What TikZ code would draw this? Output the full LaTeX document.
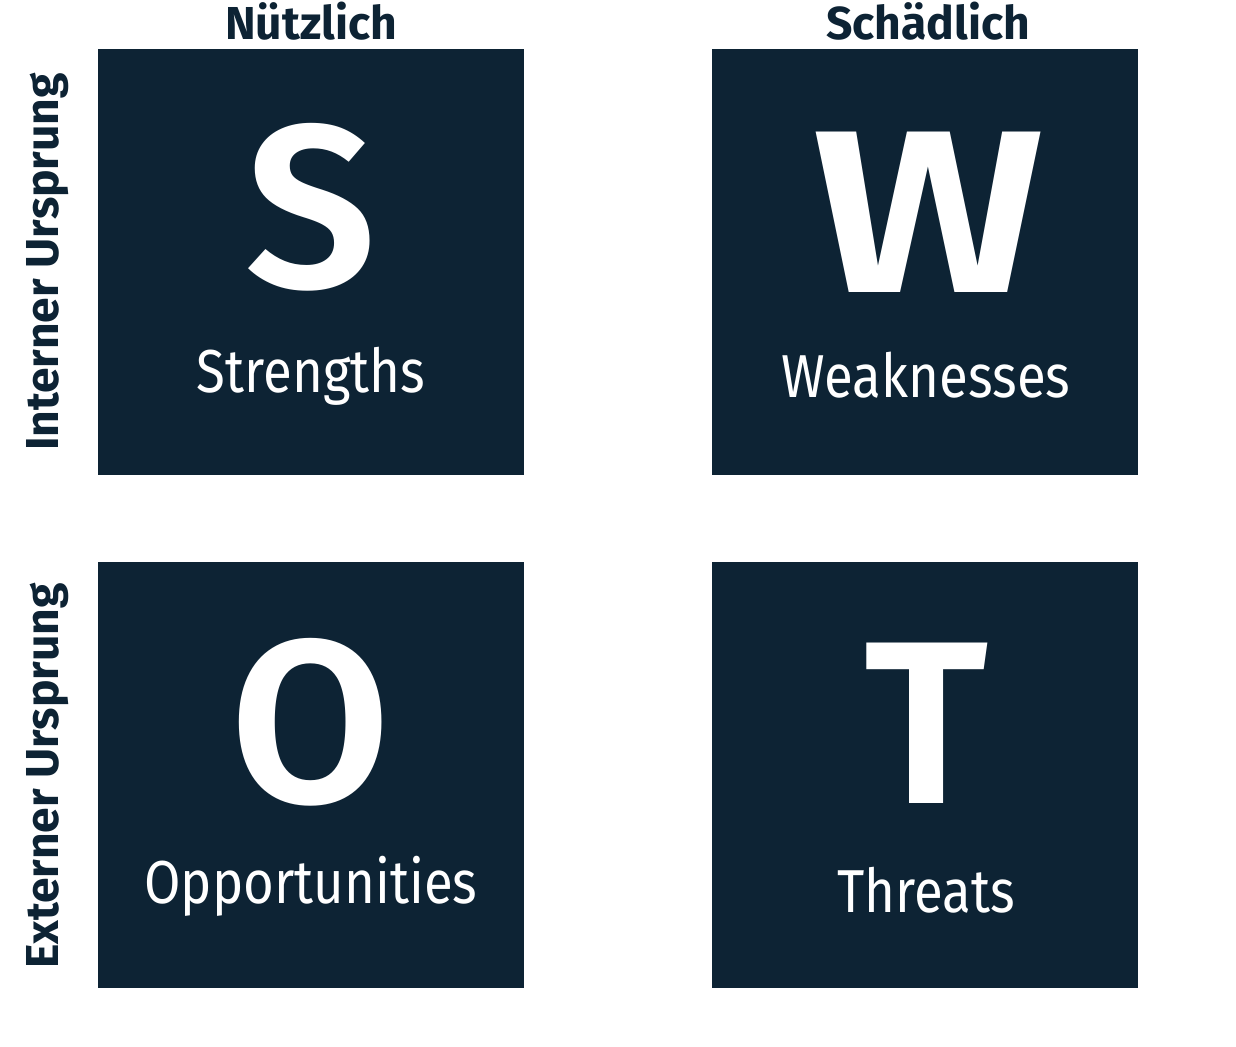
\documentclass[tikz,border=0pt]{standalone}
\usepackage{fontspec}
\setmainfont{Fira Sans}
\newfontfamily\letterfont{Fira Sans SemiBold}
\newfontfamily\namefont[FakeStretch=0.87]{Fira Sans}
\definecolor{navy}{HTML}{0D2334}
\begin{document}
\begin{tikzpicture}[x=0.02cm,y=-0.02cm,
    field/.style={fill=navy,draw=none,minimum size=8.52cm,inner sep=0pt},
    big/.style={text=white,font=\letterfont\fontsize{132}{132}\selectfont},
    sub/.style={text=white,font=\namefont\fontsize{34.5}{36}\selectfont,anchor=base},
    head/.style={text=navy,font=\fontsize{26.3}{28}\selectfont\bfseries,anchor=base}]
  \useasboundingbox (0,0) rectangle (1236,1046);
  \node[field] (s) at (311,262) {};
  \node[field] (w) at (925,262) {};
  \node[field] (o) at (311,775) {};
  \node[field] (t) at (925,775) {};
  \node[big] (sl) at (311,207) {S};
  \node[big] (wl) at (929,212) {\scalebox{1.19}[1]{W}};
  \node[big] (ol) at (311,722) {O};
  \node[big] (tl) at (926,723) {T};
  \node[sub] (st) at (311,392) {Strengths};
  \node[sub] (wt) at (926,397) {Weaknesses};
  \node[sub] (ot) at (311,903) {Opportunities};
  \node[sub] (tt) at (926,912) {Threats};
  \node[head] (n) at (311,39) {Nützlich};
  \node[head] (h) at (928,39) {Schädlich};
  \node[head,rotate=90] (i) at (58,262) {Interner Ursprung};
  \node[head,rotate=90] (e) at (58,776) {Externer Ursprung};
\end{tikzpicture}
\end{document}
